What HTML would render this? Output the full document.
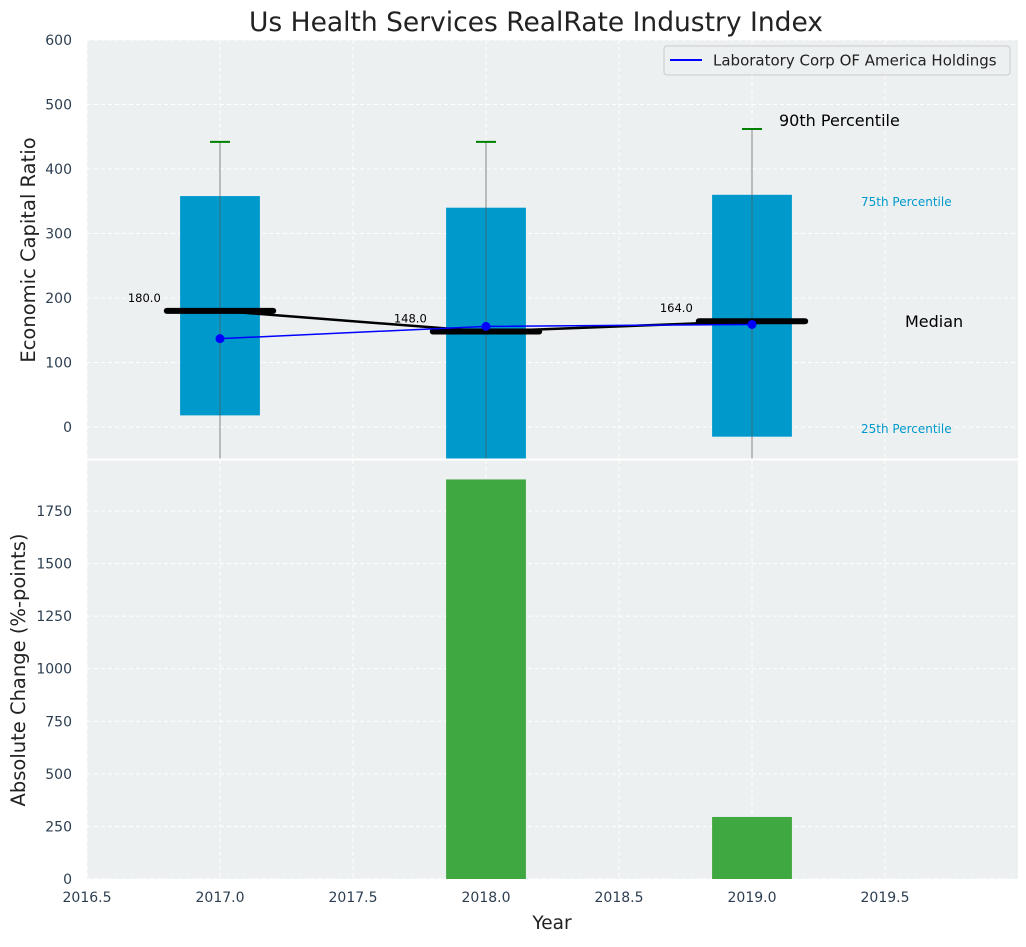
<!DOCTYPE html>
<html><head><meta charset="utf-8">
<style>
html,body{margin:0;padding:0;background:#fff;}
svg text{font-family:"DejaVu Sans","Liberation Sans",sans-serif;}
</style></head>
<body>
<svg id="chart" width="1026" height="942" xmlns="http://www.w3.org/2000/svg"></svg>
<script>
const years = [2017, 2018, 2019];
const p25 = [18, -60, -15];
const p75 = [358, 340, 360];
const p90 = [442, 442, 462];
const medians = [180, 148, 164];
const company = [137, 156, 159];
const changes = [0, 1900, 295];
const topTicks = [0, 100, 200, 300, 400, 500, 600];
const botTicks = [0, 250, 500, 750, 1000, 1250, 1500, 1750];
const xTicks = [2016.5, 2017.0, 2017.5, 2018.0, 2018.5, 2019.0, 2019.5];

const NS = "http://www.w3.org/2000/svg";
const svg = document.getElementById('chart');
const L = 87, R = 1018;
const T1 = 40, B1 = 459, T2 = 460, B2 = 879;
const x = v => L + (v - 2016.5) / (2020 - 2016.5) * (R - L);
const y1 = v => 427 + (0 - v) * (387 / 600);
const y2 = v => B2 - v * (368 / 1750);
function mk(tag, attrs, parent) {
  const e = document.createElementNS(NS, tag);
  for (const k in attrs) e.setAttribute(k, attrs[k]);
  (parent || svg).appendChild(e);
  return e;
}
function txt(s, attrs, parent) { const e = mk('text', attrs, parent); e.textContent = s; return e; }

let e = mk('rect', {x: L, y: T1, width: R - L, height: B1 - T1, fill: '#ecf0f1'});
 
e = mk('rect', {x: L, y: T2, width: R - L, height: B2 - T2, fill: '#ecf0f1'});
 

const defs = mk('defs', {});
const c1 = mk('clipPath', {id: 'c1'}, defs); mk('rect', {x: L, y: T1, width: R - L, height: B1 - T1}, c1);
const c2 = mk('clipPath', {id: 'c2'}, defs); mk('rect', {x: L, y: T2, width: R - L, height: B2 - T2}, c2);

xTicks.forEach(t => {
  mk('line', {x1: x(t), x2: x(t), y1: T1, y2: B1, stroke: '#fff', 'stroke-dasharray': '4,3', 'stroke-width': 1});
  mk('line', {x1: x(t), x2: x(t), y1: T2, y2: B2, stroke: '#fff', 'stroke-dasharray': '4,3', 'stroke-width': 1});
  e = txt(t.toFixed(1), {x: x(t), y: B2 + 23, 'text-anchor': 'middle', 'font-size': 14, fill: '#2c3e50'});
   
});
topTicks.forEach(t => {
  mk('line', {x1: L, x2: R, y1: y1(t), y2: y1(t), stroke: '#fff', 'stroke-dasharray': '4,3'});
  e = txt(String(t), {x: L - 15, y: y1(t) + 5, 'text-anchor': 'end', 'font-size': 14, fill: '#2c3e50'});
   
});
botTicks.forEach(t => {
  mk('line', {x1: L, x2: R, y1: y2(t), y2: y2(t), stroke: '#fff', 'stroke-dasharray': '4,3'});
  e = txt(String(t), {x: L - 15, y: y2(t) + 5, 'text-anchor': 'end', 'font-size': 14, fill: '#2c3e50'});
   
});

const g1 = mk('g', {'clip-path': 'url(#c1)'});
const hw = 0.15 * (R - L) / 3.5;
years.forEach((yr, i) => {
  const r = mk('rect', {x: x(yr) - hw, y: y1(p75[i]), width: 2 * hw, height: y1(p25[i]) - y1(p75[i]), fill: '#0099cc'}, g1);
  
  
  mk('line', {x1: x(yr), x2: x(yr), y1: y1(p90[i]), y2: B1 + 5, stroke: '#555', 'stroke-opacity': 0.7, 'stroke-width': 1}, g1);
  const w = mk('line', {x1: x(yr) - 10, x2: x(yr) + 10, y1: y1(p90[i]), y2: y1(p90[i]), stroke: 'green', 'stroke-width': 2}, g1);
  
  
});
mk('polyline', {points: years.map((yr, i) => x(yr) + ',' + y1(medians[i])).join(' '), fill: 'none', stroke: '#000', 'stroke-width': 2.5}, g1);
const mw = 0.2 * (R - L) / 3.5;
years.forEach((yr, i) => {
  const m = mk('line', {x1: x(yr) - mw, x2: x(yr) + mw, y1: y1(medians[i]), y2: y1(medians[i]), stroke: '#000', 'stroke-width': 6, 'stroke-linecap': 'round'}, g1);
  
  
  txt(medians[i].toFixed(1), {x: x(yr) - mw - 6, y: y1(medians[i]) - 9, 'text-anchor': 'end', 'font-size': 11.5, fill: '#000'}, g1);
});
const cl = mk('polyline', {points: years.map((yr, i) => x(yr) + ',' + y1(company[i])).join(' '), fill: 'none', stroke: 'blue', 'stroke-width': 1.5}, g1);


years.forEach((yr, i) => {
  const c = mk('circle', {cx: x(yr), cy: y1(company[i]), r: 4.5, fill: 'blue'}, g1);
  
  
});

const g2 = mk('g', {'clip-path': 'url(#c2)'});
years.forEach((yr, i) => {
  const b = mk('rect', {x: x(yr) - hw, y: y2(changes[i]), width: 2 * hw, height: y2(0) - y2(changes[i]), fill: '#2ca02c', 'fill-opacity': 0.9}, g2);
  
  
});
mk('line', {x1: L, x2: R, y1: 459.5, y2: 459.5, stroke: '#fff', 'stroke-width': 2});

const ann = [['90th Percentile', 779, 126, 16, '#000'], ['75th Percentile', 861, 206, 12, '#0099cc'], ['Median', 905, 327, 16, '#000'], ['25th Percentile', 861, 433, 12, '#0099cc']];
ann.forEach(a => {
  e = txt(a[0], {x: a[1], y: a[2], 'font-size': a[3], fill: a[4]});
  
  
});

const lg = mk('g', {});


mk('rect', {x: 664, y: 46, width: 346, height: 29, rx: 3, fill: '#ecf0f1', stroke: '#ccc'}, lg);
mk('line', {x1: 670, x2: 702, y1: 60, y2: 60, stroke: 'blue', 'stroke-width': 2}, lg);
txt('Laboratory Corp OF America Holdings', {x: 713, y: 65.5, 'font-size': 15, fill: '#222'}, lg);

e = txt('Us Health Services RealRate Industry Index', {x: 536, y: 31, 'text-anchor': 'middle', 'font-size': 26.5, fill: '#222'});
 
e = txt('Economic Capital Ratio', {x: 0, y: 0, 'text-anchor': 'middle', 'font-size': 19.5, fill: '#222', transform: 'translate(35,250) rotate(-90)'});
 
e = txt('Absolute Change (%-points)', {x: 0, y: 0, 'text-anchor': 'middle', 'font-size': 19.5, fill: '#222', transform: 'translate(25,670) rotate(-90)'});
 
e = txt('Year', {x: 552, y: 929, 'text-anchor': 'middle', 'font-size': 18.5, fill: '#222'});
 
</script>
</body></html>
